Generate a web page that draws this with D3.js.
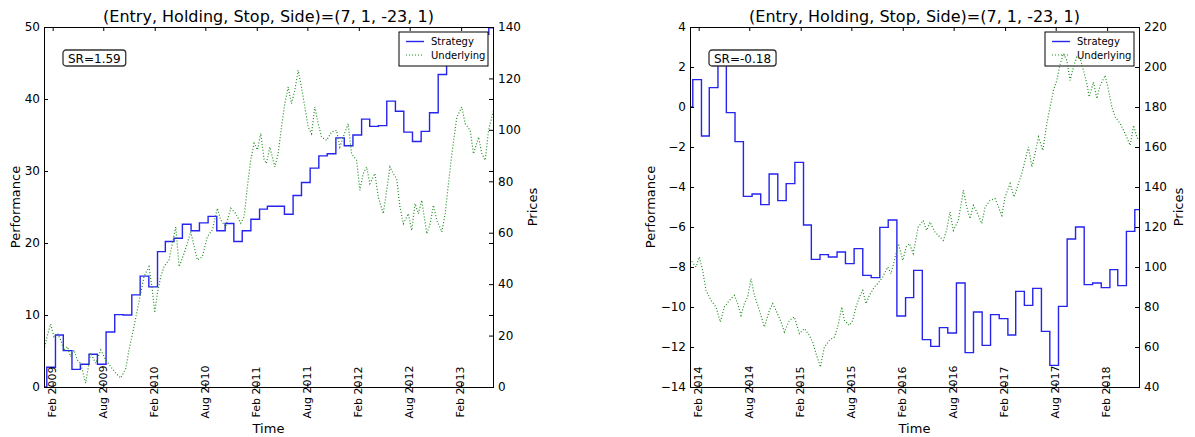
<!DOCTYPE html>
<html>
<head>
<meta charset="utf-8">
<title>Strategy vs Underlying</title>
<style>
body { margin: 0; background: white; }
text { font-family: "DejaVu Sans", sans-serif; fill: black; }
.tick line { stroke: black; }
.frame { fill: none; stroke: black; stroke-width: 1; shape-rendering: crispEdges; }
</style>
</head>
<body>
<div id="chart"></div>
<script src="https://cdn.jsdelivr.net/npm/d3@7"></script>
<script>
var titleText = "(Entry, Holding, Stop, Side)=(7, 1, -23, 1)";
var legendLabels = ["Strategy", "Underlying"];

// left panel
var leftSR = "SR=1.59";
var leftXTicks = ["Feb 2009", "Aug 2009", "Feb 2010", "Aug 2010", "Feb 2011", "Aug 2011", "Feb 2012", "Aug 2012", "Feb 2013"];
var leftPerfTicks = [0, 10, 20, 30, 40, 50];
var leftPriceTicks = [0, 20, 40, 60, 80, 100, 120, 140];
var leftStart = "2009-01"; // monthly strategy steps from here
var leftStrategy = [2.74, 7.22, 5.05, 2.45, 3.15, 4.54, 3.15, 7.64, 10.05, 10.0, 12.8, 15.4, 13.9,
    18.8, 20.2, 20.65, 22.6, 21.7, 22.8, 23.7, 21.7, 22.7, 20.2, 21.7, 23.3, 24.7, 25.1, 25.1, 24.0,
    26.6, 28.4, 30.4, 32.1, 32.4, 34.6, 33.5, 35.0, 37.2, 36.2, 36.3, 39.7, 38.3, 35.4, 34.1, 35.5,
    38.1, 43.4, 46.2, 47.3, 47.8, 48.4, 49.0, 49.9];
// [decimal year, price]
var leftUnderlying = [[2009.00,14.4],[2009.03,19.6],[2009.065,24.5],[2009.098,19.6],[2009.131,20.9],[2009.163,18.3],
    [2009.196,14.4],[2009.229,15.7],[2009.261,11.8],[2009.294,14.4],[2009.327,10.5],[2009.359,9.2],[2009.408,1.5],
    [2009.458,13.2],[2009.507,9.2],[2009.556,14.4],[2009.605,10.5],[2009.654,7.9],[2009.703,5.4],[2009.752,3.5],
    [2009.801,7.2],[2009.833,14.4],[2009.882,23.5],[2009.931,33.2],[2009.98,42.9],[2010.029,46.8],[2010.062,37.7],
    [2010.085,28.9],[2010.111,36.4],[2010.144,42.9],[2010.176,46.8],[2010.225,49.4],[2010.258,55.9],[2010.291,62.3],
    [2010.324,46.8],[2010.373,52.0],[2010.405,55.9],[2010.438,60.4],[2010.471,54.6],[2010.503,49.4],[2010.552,50.7],
    [2010.601,58.5],[2010.65,61.1],[2010.699,69.5],[2010.732,65.0],[2010.781,62.3],[2010.83,69.5],[2010.879,67.5],
    [2010.928,63.7],[2010.961,66.2],[2010.993,77.9],[2011.026,88.3],[2011.059,94.8],[2011.092,92.2],[2011.124,98.7],
    [2011.157,88.3],[2011.18,86.9],[2011.213,93.3],[2011.262,85.6],[2011.295,90.7],[2011.327,101.1],[2011.36,110.2],
    [2011.393,116.7],[2011.425,110.2],[2011.458,115.4],[2011.491,123.2],[2011.523,116.7],[2011.556,108.9],[2011.589,101.1],
    [2011.622,98.5],[2011.654,108.9],[2011.687,102.4],[2011.72,97.2],[2011.769,95.9],[2011.818,99.2],[2011.867,99.8],
    [2011.899,93.3],[2011.932,97.2],[2011.981,102.4],[2012.014,90.7],[2012.063,88.2],[2012.095,76.5],[2012.128,83.0],
    [2012.161,85.6],[2012.193,79.1],[2012.242,83.0],[2012.275,73.9],[2012.324,67.4],[2012.357,76.5],[2012.389,85.6],
    [2012.422,83.0],[2012.455,81.0],[2012.487,70.0],[2012.52,63.5],[2012.569,67.4],[2012.602,60.9],[2012.634,71.3],
    [2012.667,67.4],[2012.7,72.6],[2012.749,59.6],[2012.782,63.5],[2012.814,70.7],[2012.847,64.8],[2012.896,60.3],
    [2012.929,67.4],[2012.961,79.1],[2012.994,90.7],[2013.043,105.0],[2013.092,108.9],[2013.125,102.4],[2013.174,99.8],
    [2013.206,90.7],[2013.256,97.2],[2013.288,90.7],[2013.321,88.2],[2013.354,99.8],[2013.402,107.6]];

// right panel
var rightSR = "SR=-0.18";
var rightXTicks = ["Feb 2014", "Aug 2014", "Feb 2015", "Aug 2015", "Feb 2016", "Aug 2016", "Feb 2017", "Aug 2017", "Feb 2018"];
var rightPerfTicks = [-14, -12, -10, -8, -6, -4, -2, 0, 2, 4];
var rightPriceTicks = [40, 60, 80, 100, 120, 140, 160, 180, 200, 220];
var rightStart = "2014-01";
var rightStrategy = [1.37, -1.45, 0.97, 2.2, -0.28, -1.73, -4.47, -4.35, -4.88, -3.35, -4.68, -3.83, -2.77,
    -5.9, -7.62, -7.38, -7.5, -7.25, -7.83, -7.08, -8.42, -8.53, -6.02, -5.65, -10.45, -9.53, -8.17,
    -11.63, -11.97, -11.03, -11.3, -8.8, -12.28, -10.25, -11.92, -10.38, -10.58, -11.4, -9.22, -9.92,
    -9.07, -11.22, -12.92, -9.97, -6.6, -6.0, -8.88, -8.8, -9.03, -8.13, -8.93, -6.22, -5.13];
var rightUnderlying = [[2014.00,104],[2014.01,103.3],[2014.059,100],[2014.091,105],[2014.124,98.3],[2014.157,88.3],
    [2014.206,83.3],[2014.255,80],[2014.297,72.5],[2014.337,80],[2014.386,83.3],[2014.435,85.8],[2014.467,81.7],
    [2014.5,75.8],[2014.533,81.7],[2014.565,85],[2014.598,94.2],[2014.631,85.8],[2014.68,78.3],[2014.729,70],
    [2014.778,78.3],[2014.81,81.7],[2014.843,78.3],[2014.892,72.5],[2014.925,67.5],[2014.974,73.3],[2015.023,75],
    [2015.072,66.7],[2015.121,69.2],[2015.17,65.8],[2015.202,62.5],[2015.235,56.7],[2015.278,50],[2015.317,60],
    [2015.366,63.3],[2015.415,65],[2015.448,70],[2015.487,80],[2015.513,73.3],[2015.562,70.8],[2015.595,73.3],
    [2015.627,80],[2015.66,85],[2015.693,88.3],[2015.725,81.7],[2015.758,85.8],[2015.807,90],[2015.84,91.7],
    [2015.889,95],[2015.938,100],[2015.97,96.7],[2016.003,103.3],[2016.042,111.7],[2016.085,103.3],[2016.118,110],
    [2016.15,111.7],[2016.187,106.7],[2016.236,120],[2016.285,123.3],[2016.317,118.3],[2016.35,122.5],[2016.399,117.5],
    [2016.448,115],[2016.481,113.3],[2016.513,118.3],[2016.546,127.5],[2016.579,118.3],[2016.628,123.3],[2016.677,138.3],
    [2016.71,130],[2016.742,124.2],[2016.775,130.8],[2016.824,125.8],[2016.857,121.7],[2016.889,130],[2016.938,133.3],
    [2016.987,134.2],[2017.02,130],[2017.053,125.8],[2017.085,135],[2017.134,141.7],[2017.174,135],[2017.216,141.7],
    [2017.249,146.7],[2017.281,153.3],[2017.314,160],[2017.347,150],[2017.379,156.7],[2017.412,165],[2017.455,158.3],
    [2017.494,171.7],[2017.526,180],[2017.559,188.3],[2017.592,193.3],[2017.625,201.7],[2017.657,206.7],[2017.69,203.3],
    [2017.722,193.3],[2017.755,200],[2017.788,205],[2017.821,204.2],[2017.853,198.3],[2017.886,191.7],[2017.909,185],
    [2017.951,192.5],[2017.984,184.2],[2018.017,190.8],[2018.066,195.8],[2018.099,188.3],[2018.131,180],[2018.164,175],
    [2018.213,171.7],[2018.262,166.7],[2018.311,160.8],[2018.344,170.8],[2018.376,165],[2018.409,162.5]];

(function() {
    var dimensions = { width: 1195, height: 437 };
    var plot = { top: 27, width: 449, height: 360 };
    var parseTick = d3.timeParse("%b %Y");
    var parseMonth = d3.timeParse("%Y-%m");
    var blue = "#2424ee", green = "#1f8c1f";

    function yearToDate(t) {
        var y = Math.floor(t);
        var a = new Date(y, 0, 1), b = new Date(y + 1, 0, 1);
        return new Date(+a + (t - y) * (b - a));
    }

    function strategyPoints(start, values, x0, x1) {
        var m = parseMonth(start);
        var pts = [[x0, 0]];
        values.forEach(function(v, i) {
            pts.push([new Date(m.getFullYear(), m.getMonth() + i, 11), v]);
        });
        pts.push([x1, values[values.length - 1]]);
        return pts;
    }

    function draw_panel(svg, p, idx) {
        var g = svg.append("g")
            .attr("transform", "translate(" + p.left + "," + plot.top + ")");
        var x = d3.scaleTime().domain(p.xdomain).range([0, plot.width]);
        var yPerf = d3.scaleLinear().domain(p.perfDomain).range([plot.height, 0]);
        var yPrice = d3.scaleLinear().domain(p.priceDomain).range([plot.height, 0]);

        svg.append("clipPath").attr("id", "clip" + idx)
          .append("rect").attr("width", plot.width).attr("height", plot.height);

        // strategy (ax1)
        var strat = strategyPoints(p.start, p.strategy, p.xdomain[0], p.xdomain[1]);
        g.append("path")
            .datum(strat)
            .attr("clip-path", "url(#clip" + idx + ")")
            .attr("fill", "none")
            .attr("stroke", blue)
            .attr("stroke-width", 1.4)
            .attr("d", d3.line().curve(d3.curveStepAfter)
                .x(function(d) { return x(d[0]); })
                .y(function(d) { return yPerf(d[1]); }));

        // SR box
        var sr = g.append("g").attr("transform", "translate(19,23)");
        var srText = sr.append("text")
            .attr("x", 5).attr("y", 12.5)
            .style("font-size", "12px")
            .text(p.sr);
        var tw = srText.node().getComputedTextLength();
        sr.insert("rect", "text")
            .attr("width", tw + 10).attr("height", 16)
            .attr("rx", 3).attr("ry", 3)
            .attr("fill", "white")
            .attr("stroke", "#333")
            .attr("stroke-width", 1.3);

        // legend
        var lg = g.append("g").attr("transform", "translate(" + (plot.width - 94) + ",5)");
        lg.append("rect")
            .attr("width", 89).attr("height", 34)
            .attr("fill", "white").attr("stroke", "black").attr("stroke-width", 1);
        lg.append("line").attr("x1", 7).attr("x2", 25).attr("y1", 9.5).attr("y2", 9.5)
            .attr("stroke", blue).attr("stroke-width", 1.4);
        lg.append("line").attr("x1", 7).attr("x2", 25).attr("y1", 23).attr("y2", 23)
            .attr("stroke", green).attr("stroke-width", 1.2).attr("stroke-dasharray", "1,2");
        legendLabels.forEach(function(lbl, i) {
            lg.append("text")
                .attr("x", 32).attr("y", 9.5 + i * 13.5)
                .attr("dy", "0.35em")
                .style("font-size", "10px")
                .text(lbl);
        });

        // underlying (ax2, drawn over ax1)
        g.append("path")
            .datum(p.underlying)
            .attr("clip-path", "url(#clip" + idx + ")")
            .attr("fill", "none")
            .attr("stroke", green)
            .attr("stroke-width", 1.2)
            .attr("stroke-dasharray", "1,2")
            .attr("d", d3.line()
                .x(function(d) { return x(yearToDate(d[0])); })
                .y(function(d) { return yPrice(d[1]); }));

        // frame
        g.append("rect").attr("class", "frame")
            .attr("width", plot.width).attr("height", plot.height);

        var tickDates = p.xticks.map(parseTick);

        // y axes, ticks inward
        g.append("g")
            .call(d3.axisLeft(yPerf).tickValues(p.perfTicks).tickSize(-4).tickSizeOuter(0).tickPadding(4))
            .call(function(a) { a.select(".domain").remove(); })
            .selectAll("text").style("font-size", "12px").style("font-family", "DejaVu Sans");
        g.append("g")
            .attr("transform", "translate(" + plot.width + ",0)")
            .call(d3.axisRight(yPerf).tickValues(p.perfTicks).tickSize(-4).tickSizeOuter(0).tickFormat(""))
            .call(function(a) { a.select(".domain").remove(); });
        g.append("g")
            .attr("transform", "translate(" + plot.width + ",0)")
            .call(d3.axisRight(yPrice).tickValues(p.priceTicks).tickSize(-4).tickSizeOuter(0).tickPadding(5))
            .call(function(a) { a.select(".domain").remove(); })
            .selectAll("text").style("font-size", "12px").style("font-family", "DejaVu Sans");

        // x axes: top and bottom ticks inward
        g.append("g")
            .call(d3.axisTop(x).tickValues(tickDates).tickSize(-4).tickSizeOuter(0).tickFormat(""))
            .call(function(a) { a.select(".domain").remove(); });
        g.append("g")
            .attr("transform", "translate(0," + plot.height + ")")
            .call(d3.axisBottom(x).tickValues(tickDates).tickSize(-4).tickSizeOuter(0).tickFormat(""))
            .call(function(a) { a.select(".domain").remove(); });

        // rotated date labels
        g.selectAll("text.xlbl")
            .data(p.xticks)
          .enter().append("text")
            .attr("class", "xlbl")
            .attr("transform", function(d, i) {
                return "translate(" + (x(tickDates[i]) - 0.5) + "," + (plot.height + 5) + ") rotate(-90)";
            })
            .attr("text-anchor", "middle")
            .attr("dy", "0.35em")
            .style("font-size", "11px")
            .text(function(d) { return d; });

        // titles and axis labels
        g.append("text")
            .attr("x", plot.width / 2).attr("y", -5)
            .attr("text-anchor", "middle")
            .style("font-size", "16px")
            .text(titleText);
        g.append("text")
            .attr("x", plot.width / 2).attr("y", plot.height + 46)
            .attr("text-anchor", "middle")
            .style("font-size", "13px")
            .text("Time");
        g.append("text")
            .attr("transform", "translate(" + p.perfLabelX + "," + (plot.height / 2) + ") rotate(-90)")
            .attr("text-anchor", "middle")
            .style("font-size", "13px")
            .text("Performance");
        g.append("text")
            .attr("transform", "translate(" + (plot.width + 44) + "," + (plot.height / 2) + ") rotate(-90)")
            .attr("text-anchor", "middle")
            .style("font-size", "13px")
            .text("Prices");
    }

    var svg = d3.select("#chart")
        .append("svg")
        .attr("width", dimensions.width)
        .attr("height", dimensions.height);

    draw_panel(svg, {
        left: 44,
        xdomain: [new Date(2009, 0, 1), new Date(2013, 4, 26)],
        perfDomain: [0, 50], priceDomain: [0, 140],
        perfTicks: leftPerfTicks, priceTicks: leftPriceTicks, xticks: leftXTicks,
        start: leftStart, strategy: leftStrategy, underlying: leftUnderlying,
        sr: leftSR, perfLabelX: -24
    }, 0);
    draw_panel(svg, {
        left: 690,
        xdomain: [new Date(2014, 0, 1), new Date(2018, 4, 26)],
        perfDomain: [-14, 4], priceDomain: [40, 220],
        perfTicks: rightPerfTicks, priceTicks: rightPriceTicks, xticks: rightXTicks,
        start: rightStart, strategy: rightStrategy, underlying: rightUnderlying,
        sr: rightSR, perfLabelX: -35
    }, 1);
})();
</script>
</body>
</html>
